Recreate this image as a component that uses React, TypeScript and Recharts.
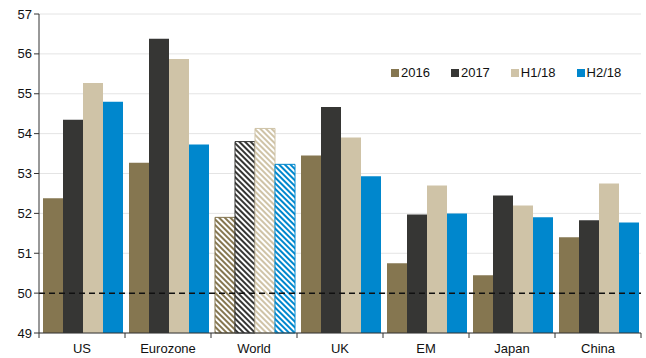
import { BarChart, Bar, XAxis, YAxis, CartesianGrid, ReferenceLine, Legend, Cell } from "recharts";

const categories = ["US", "Eurozone", "World", "UK", "EM", "Japan", "China"];
const y2016 = [52.38, 53.27, 51.9, 53.45, 50.75, 50.45, 51.4];
const y2017 = [54.35, 56.38, 53.8, 54.67, 51.97, 52.45, 51.83];
const h118 = [55.27, 55.87, 54.13, 53.9, 52.7, 52.2, 52.75];
const h218 = [54.8, 53.73, 53.23, 52.93, 52.0, 51.9, 51.77];
const yTicks = [49, 50, 51, 52, 53, 54, 55, 56, 57];

const series = [
  { key: "y2016", name: "2016", color: "#857650" },
  { key: "y2017", name: "2017", color: "#363634" },
  { key: "h118", name: "H1/18", color: "#cfc3a7" },
  { key: "h218", name: "H2/18", color: "#0087cd" },
];

const data = categories.map((c, i) => ({
  name: c,
  y2016: y2016[i],
  y2017: y2017[i],
  h118: h118[i],
  h218: h218[i],
}));

const hatched = "World";
const font = "'Liberation Sans', Arial, sans-serif";

const XTick = (props: any) => {
  const { x, y, payload, index } = props;
  const half = payload.offset || 43;
  return (
    <g>
      <line x1={x - half} x2={x - half} y1={y - 8} y2={y - 3} stroke="#333" />
      {index === categories.length - 1 && (
        <line x1={x + half} x2={x + half} y1={y - 8} y2={y - 3} stroke="#333" />
      )}
      <text x={x} y={y + 12} textAnchor="middle" fill="#111" fontSize={13} fontFamily={font}>
        {payload.value}
      </text>
    </g>
  );
};

const LegendBox = (props: any) => (
  <div style={{ display: "flex", fontFamily: font, fontSize: 13, color: "#111" }}>
    {props.payload.map((p: any) => (
      <div key={p.value} style={{ display: "flex", alignItems: "center", marginRight: 21 }}>
        <span style={{ width: 8, height: 8, background: p.color, marginRight: 2, display: "inline-block" }} />
        {p.value}
      </div>
    ))}
  </div>
);

export default function App() {
  return (
    <div style={{ width: 646, height: 358, background: "#fff" }}>
      <style>{"body{margin:0}"}</style>
      <svg width={0} height={0} style={{ position: "absolute" }}>
        <defs>
          {series.map((s) => (
            <pattern
              key={s.key}
              id={"hatch-" + s.key}
              patternUnits="userSpaceOnUse"
              width={4}
              height={4}
              patternTransform="rotate(-45)"
            >
              <rect width={4} height={4} fill="#fff" />
              <rect width={2} height={4} fill={s.color} />
            </pattern>
          ))}
        </defs>
      </svg>
      <BarChart
        width={646}
        height={358}
        data={data}
        margin={{ top: 14, right: 5, left: 0, bottom: 0 }}
        barCategoryGap={4}
        barGap={0}
      >
        <CartesianGrid vertical={false} stroke="#e4e4e4" />
        <XAxis
          dataKey="name"
          tickLine={false}
          axisLine={{ stroke: "#333" }}
          height={25}
          interval={0}
          tick={<XTick />}
        />
        <YAxis
          domain={[49, 57]}
          ticks={yTicks}
          width={39}
          tickSize={5}
          axisLine={{ stroke: "#333" }}
          tickLine={{ stroke: "#333" }}
          tick={{ fill: "#111", fontSize: 13, fontFamily: font }}
          interval={0}
        />
        <Legend
          verticalAlign="middle"
          align="center"
          layout="horizontal"
          content={<LegendBox />}
          wrapperStyle={{ position: "absolute", top: 65, left: 391, width: "auto" }}
        />
        {series.map((s) => (
          <Bar key={s.key} dataKey={s.key} name={s.name} fill={s.color} isAnimationActive={false}>
            {data.map((d) => (
              <Cell
                key={d.name}
                fill={d.name === hatched ? "url(#hatch-" + s.key + ")" : s.color}
                stroke={d.name === hatched ? s.color : "none"}
                strokeWidth={1}
              />
            ))}
          </Bar>
        ))}
        <ReferenceLine y={50} stroke="#111" strokeWidth={1.5} strokeDasharray="6 4" />
      </BarChart>
    </div>
  );
}
